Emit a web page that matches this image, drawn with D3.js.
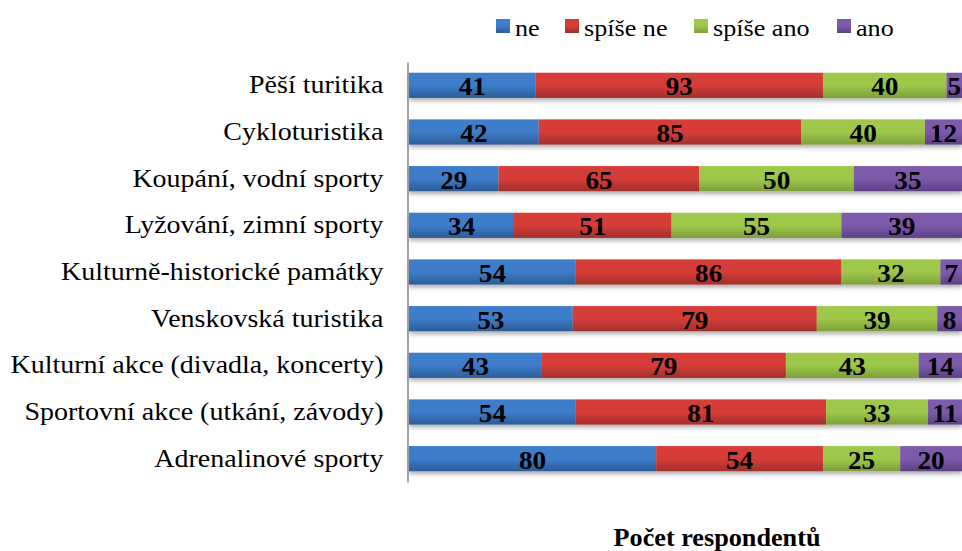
<!DOCTYPE html>
<html><head><meta charset="utf-8">
<script src="https://cdn.jsdelivr.net/npm/d3@7"></script>
<style>body{margin:0;background:#fff}svg{display:block}
svg text{font-family:"Liberation Serif","Times New Roman",serif}</style>
</head><body>
<svg id="c" width="962" height="551"></svg>
<script>
const categories = ["Pěší turitika","Cykloturistika","Koupání, vodní sporty","Lyžování, zimní sporty","Kulturně-historické památky","Venskovská turistika","Kulturní akce (divadla, koncerty)","Sportovní akce (utkání, závody)","Adrenalinové sporty"];
const seriesNames = ["ne","spíše ne","spíše ano","ano"];
const ne = [41,42,29,34,54,53,43,54,80];
const spiseNe = [93,85,65,51,86,79,79,81,54];
const spiseAno = [40,40,50,55,32,39,43,33,25];
const ano = [5,12,35,39,7,8,14,11,20];
const axisTitle = "Počet respondentů";

const colorsTop = ["#3d7dc9","#d63d39","#9fc84c","#7e5aaa"];
const colorsBot = ["#2c5c99","#a22f2c","#7d9f39","#5d4086"];

const svg = d3.select("#c");
const defs = svg.append("defs");
seriesNames.forEach((s,i)=>{
  const g = defs.append("linearGradient").attr("id","g"+i).attr("x1",0).attr("y1",0).attr("x2",0).attr("y2",1);
  g.append("stop").attr("offset","0").attr("stop-color",colorsTop[i]);
  g.append("stop").attr("offset","0.5").attr("stop-color",colorsTop[i]);
  g.append("stop").attr("offset","1").attr("stop-color",colorsBot[i]);
});
const f = defs.append("filter").attr("id","sh").attr("x","-5%").attr("y","-20%").attr("width","110%").attr("height","160%");
f.append("feDropShadow").attr("dx",0).attr("dy",3).attr("stdDeviation",2).attr("flood-color","#000").attr("flood-opacity",0.3);

function stretch(sel, sx){
  sel.each(function(){
    const t = d3.select(this);
    const x = +t.attr("x")||0, y = +t.attr("y")||0;
    t.attr("x",0).attr("y",0).attr("transform",`translate(${x},${y}) scale(${sx},1)`);
  });
}

const rows = categories.map((c,i)=>({cat:c, "ne":ne[i], "spíše ne":spiseNe[i], "spíše ano":spiseAno[i], "ano":ano[i]}));
const stack = d3.stack().keys(seriesNames)(rows);

const x = d3.scaleLinear().domain([0,179]).range([409,962]);
const y = d3.scaleBand().domain(categories).range([62,482]).paddingInner(0.46).paddingOuter(0.23);

const barG = svg.append("g").attr("filter","url(#sh)");
stack.forEach((layer,i)=>{
  barG.append("g").selectAll("rect").data(layer).join("rect")
    .attr("x",d=>x(d[0])).attr("width",d=>x(d[1])-x(d[0]))
    .attr("y",d=>y(d.data.cat)).attr("height",y.bandwidth())
    .attr("fill",`url(#g${i})`);
});
const labG = svg.append("g");
stack.forEach((layer,i)=>{
  labG.append("g").selectAll("text").data(layer).join("text")
    .attr("x",d=>(x(d[0])+x(d[1]))/2)
    .attr("y",d=>y(d.data.cat)+y.bandwidth()/2+10)
    .attr("text-anchor","middle")
    .style("font-weight","bold").style("font-size","25px").attr("fill","#000")
    .text(d=>d[1]-d[0])
    .call(stretch, 1.09);
});

const ax = svg.append("g").attr("transform","translate(407.5,0)")
  .call(d3.axisLeft(y).tickSize(0).tickPadding(24));
ax.attr("font-family",null).attr("font-size",null);
ax.select(".domain").attr("stroke","#868686").attr("stroke-width",1.5);
ax.selectAll(".tick text").style("font-size","25px").attr("fill","#000").attr("dy",null)
  .attr("y",8).call(stretch, 1.12);

// legend
const legX = [496,565,694,837];
const lg = svg.append("g");
seriesNames.forEach((s,i)=>{
  lg.append("rect").attr("x",legX[i]).attr("y",19).attr("width",14).attr("height",14).attr("fill",`url(#g${i})`);
  lg.append("text").attr("x",legX[i]+19).attr("y",36).style("font-size","24px").attr("fill","#000").text(s).call(stretch, 1.09);
});

svg.append("text").attr("x",717).attr("y",545.5).attr("text-anchor","middle")
  .style("font-weight","bold").style("font-size","24.5px").text(axisTitle).call(stretch, 1.07);
</script>
</body></html>
